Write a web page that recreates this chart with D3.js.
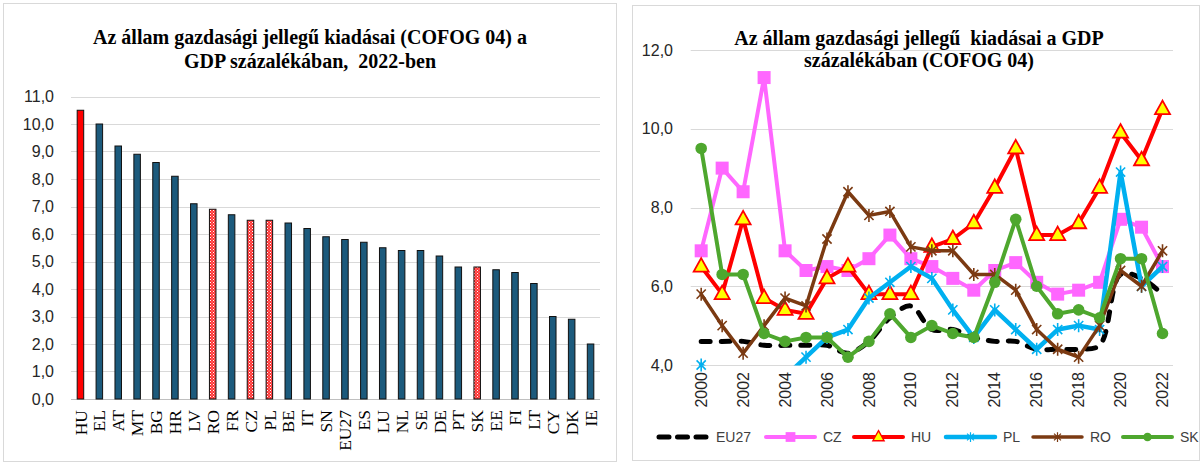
<!DOCTYPE html>
<html><head><meta charset="utf-8">
<script src="https://cdn.jsdelivr.net/npm/d3@7"></script>
<style>body{margin:0;background:#fff} svg{display:block}</style>
</head><body>
<svg id="c" width="1204" height="464"></svg>
<script>
// ---------- Left chart data ----------
const countries = ["HU","EL","AT","MT","BG","HR","LV","RO","FR","CZ","PL","BE","IT","SN","EU27","ES","LU","NL","SE","DE","PT","SK","EE","FI","LT","CY","DK","IE"];
const values2022 = [10.5,10.0,9.2,8.9,8.6,8.1,7.1,6.9,6.7,6.5,6.5,6.4,6.2,5.9,5.8,5.7,5.5,5.4,5.4,5.2,4.8,4.8,4.7,4.6,4.2,3.0,2.9,2.0];
const redSolid = ["HU"];
const redDotted = ["RO","CZ","PL","SK"];
const leftTicks = [0,1,2,3,4,5,6,7,8,9,10,11];
const leftTitle = ["Az állam gazdasági jellegű kiadásai (COFOG 04) a", "GDP százalékában,  2022-ben"];

// ---------- Right chart data ----------
const years = [2000,2001,2002,2003,2004,2005,2006,2007,2008,2009,2010,2011,2012,2013,2014,2015,2016,2017,2018,2019,2020,2021,2022];
const yearLabels = [2000,2002,2004,2006,2008,2010,2012,2014,2016,2018,2020,2022];
const rightTicks = [4,6,8,10,12];
const seriesNames = ["EU27","CZ","HU","PL","RO","SK"];
const eu27 = [4.6,4.6,4.6,4.5,4.5,4.5,4.5,4.3,4.6,5.2,5.5,4.9,4.9,4.7,4.6,4.6,4.4,4.4,4.4,4.5,6.3,6.2,5.8];
const cz   = [6.9,9.0,8.4,11.3,6.9,6.4,6.5,6.4,6.7,7.3,6.7,6.5,6.2,5.9,6.4,6.6,6.1,5.8,5.9,6.1,7.7,7.5,6.5];
const hu   = [6.5,5.8,7.7,5.7,5.4,5.3,6.2,6.5,5.8,5.8,5.8,7.0,7.2,7.6,8.5,9.5,7.3,7.3,7.6,8.5,9.9,9.2,10.5];
const pl   = [4.0,3.6,3.5,3.5,3.7,4.2,4.7,4.9,5.7,6.1,6.5,6.2,5.4,4.7,5.4,4.9,4.4,4.9,5.0,4.9,8.9,6.0,6.5];
const ro   = [5.8,5.0,4.3,5.0,5.7,5.5,7.2,8.4,7.8,7.9,7.0,6.9,6.9,6.3,6.3,5.9,4.9,4.4,4.2,5.0,6.4,6.0,6.9];
const sk   = [9.5,6.3,6.3,4.8,4.6,4.7,4.7,4.2,4.6,5.3,4.7,5.0,4.8,4.7,6.1,7.7,6.0,5.3,5.4,5.2,6.7,6.7,4.8];
const rightTitle = ["Az állam gazdasági jellegű  kiadásai a GDP", "százalékában (COFOG 04)"];

const svg = d3.select("#c");
const defs = svg.append("defs");
const pat = defs.append("pattern").attr("id","dots").attr("patternUnits","userSpaceOnUse").attr("width",3).attr("height",3);
pat.append("rect").attr("width",3).attr("height",3).attr("fill","#FF3030");
pat.append("rect").attr("x",0).attr("y",0).attr("width",1).attr("height",1).attr("fill","#ffffff");
pat.append("rect").attr("x",1.5).attr("y",1.5).attr("width",1).attr("height",1).attr("fill","#ffd0d0");

// panels
svg.append("rect").attr("x",3.5).attr("y",3.5).attr("width",613).attr("height",458).attr("fill","#fff").attr("stroke","#D9D9D9");
svg.append("rect").attr("x",632.5).attr("y",5.5).attr("width",567).attr("height",455).attr("fill","#fff").attr("stroke","#D9D9D9");

// ---------- Left chart ----------
const L = svg.append("g");
const yL = d3.scaleLinear().domain([0,11]).range([399,96.5]);
const xL = d3.scaleBand().domain(countries).range([71,600]).paddingInner(0.655).paddingOuter(0.3275);

L.selectAll("line.grid").data(leftTicks).join("line")
  .attr("x1",71).attr("x2",600).attr("y1",d=>Math.round(yL(d))+0.5).attr("y2",d=>Math.round(yL(d))+0.5)
  .attr("stroke",d=>d===0?"#BFBFBF":"#D9D9D9").attr("stroke-width",1.2);

L.selectAll("text.yt").data(leftTicks).join("text")
  .attr("x",54).attr("y",d=>yL(d)).attr("dy","0.35em").attr("text-anchor","end")
  .attr("font-family","Liberation Sans, Arial, sans-serif").attr("font-size",16).attr("fill","#262626")
  .text(d=>d3.format(".1f")(d).replace(".",","));

L.selectAll("rect.bar").data(countries).join("rect")
  .attr("x",d=>xL(d)).attr("width",xL.bandwidth())
  .attr("y",(d,i)=>yL(values2022[i])).attr("height",(d,i)=>yL(0)-yL(values2022[i]))
  .attr("fill",d=>redSolid.includes(d)?"#FF0000":(redDotted.includes(d)?"url(#dots)":"#1C5A7C"))
  .attr("stroke","#111").attr("stroke-width",1);

L.selectAll("text.xt").data(countries).join("text")
  .attr("transform",d=>`translate(${xL(d)+xL.bandwidth()/2},410) rotate(-90)`)
  .attr("dy","0.35em").attr("text-anchor","end")
  .attr("font-family","Liberation Serif, Times New Roman, serif").attr("font-size",17.5).attr("fill","#000")
  .text(d=>d);

L.selectAll("text.title").data(leftTitle).join("text")
  .attr("x",310).attr("y",(d,i)=>44+i*24).attr("text-anchor","middle")
  .attr("font-family","Liberation Serif, Times New Roman, serif").attr("font-weight","bold").attr("font-size",20)
  .attr("fill","#000").style("white-space","pre").text(d=>d);

// ---------- Right chart ----------
const R = svg.append("g");
const xR = d3.scaleBand().domain(years).range([690.7,1173]);
const cx = d=>xR(d)+xR.bandwidth()/2;
const yR = d3.scaleLinear().domain([4,12]).range([365,50]);

R.selectAll("line.grid").data(rightTicks).join("line")
  .attr("x1",690.7).attr("x2",1173).attr("y1",d=>Math.round(yR(d))+0.5).attr("y2",d=>Math.round(yR(d))+0.5)
  .attr("stroke","#D9D9D9").attr("stroke-width",1.2);

R.selectAll("text.title").data(rightTitle).join("text")
  .attr("x",919).attr("y",(d,i)=>45+i*22).attr("text-anchor","middle")
  .attr("font-family","Liberation Serif, Times New Roman, serif").attr("font-weight","bold").attr("font-size",20)
  .attr("fill","#000").style("white-space","pre").text(d=>d);

R.selectAll("text.yt").data(rightTicks).join("text")
  .attr("x",673).attr("y",d=>yR(d)).attr("dy","0.35em").attr("text-anchor","end")
  .attr("font-family","Liberation Sans, Arial, sans-serif").attr("font-size",16).attr("fill","#262626")
  .text(d=>d3.format(".1f")(d).replace(".",","));

R.selectAll("text.xt").data(yearLabels).join("text")
  .attr("transform",d=>`translate(${cx(d)},372) rotate(-90)`)
  .attr("dy","0.35em").attr("text-anchor","end")
  .attr("font-family","Liberation Sans, Arial, sans-serif").attr("font-size",16).attr("fill","#262626")
  .text(d=>d);

defs.append("clipPath").attr("id","plotclip").append("rect")
  .attr("x",690.7).attr("y",40).attr("width",482.3).attr("height",325.5);

const styles = {
  EU27:{data:eu27,color:"#000000",width:5,dash:"9,11",curve:d3.curveCatmullRom.alpha(0.5),marker:null},
  CZ:{data:cz,color:"#FF66FF",width:4,marker:"square"},
  HU:{data:hu,color:"#FF0000",width:4,marker:"triangle"},
  PL:{data:pl,color:"#00B0F0",width:4.5,marker:"star"},
  RO:{data:ro,color:"#7B3A12",width:3.5,marker:"star"},
  SK:{data:sk,color:"#4EA72E",width:4,marker:"circle"}
};

function drawMarker(g, type, color, x, y, scale){
  const s = scale||1;
  if(type==="square"){
    g.append("rect").attr("x",x-6.5*s).attr("y",y-6.5*s).attr("width",13*s).attr("height",13*s).attr("fill",color);
  } else if(type==="triangle"){
    const w=7.5*s;
    g.append("path").attr("d",`M${x},${y-8.5*s}L${x+w},${y+5*s}L${x-w},${y+5*s}Z`)
      .attr("fill","#FFFF00").attr("stroke","#FF0000").attr("stroke-width",1.8*s).attr("stroke-linejoin","miter");
  } else if(type==="star"){
    const r=6.5*s, d=4.6*s;
    g.append("path").attr("d",`M${x},${y-r}V${y+r}M${x-d},${y-d}L${x+d},${y+d}M${x-d},${y+d}L${x+d},${y-d}`)
      .attr("stroke",color).attr("stroke-width",1.6*s).attr("fill","none");
  } else if(type==="circle"){
    g.append("circle").attr("cx",x).attr("cy",y).attr("r",5.8*s).attr("fill",color);
  }
}

seriesNames.forEach(name=>{
  const st = styles[name];
  const g = R.append("g");
  const line = d3.line().x((d,i)=>cx(years[i])).y(d=>yR(d)).curve(st.curve||d3.curveLinear);
  g.append("path").datum(st.data).attr("d",line).attr("clip-path","url(#plotclip)")
    .attr("fill","none").attr("stroke",st.color).attr("stroke-width",st.width)
    .attr("stroke-linejoin","round").attr("stroke-linecap","round")
    .attr("stroke-dasharray",st.dash||null);
  if(st.marker){
    st.data.forEach((v,i)=>{ if(v>=4) drawMarker(g, st.marker, st.color, cx(years[i]), yR(v)); });
  }
});

// legend
const legendX = [657,764,852,944,1031,1121];
const legendY = 437;
seriesNames.forEach((name,k)=>{
  const st = styles[name];
  const g = svg.append("g");
  const x0 = legendX[k], x1 = x0+53;
  g.append("line").attr("x1",x0+2).attr("x2",x1-2).attr("y1",legendY).attr("y2",legendY)
    .attr("stroke",st.color).attr("stroke-width",st.width).attr("stroke-linecap","round")
    .attr("stroke-dasharray",name==="EU27"?"10,8.5":null);
  if(st.marker) drawMarker(g, st.marker, st.color, (x0+x1)/2, legendY, 0.75);
  g.append("text").attr("x",x1+6).attr("y",legendY).attr("dy","0.35em")
    .attr("font-family","Liberation Sans, Arial, sans-serif").attr("font-size",14).attr("fill","#404040")
    .text(name);
});
</script>
</body></html>
